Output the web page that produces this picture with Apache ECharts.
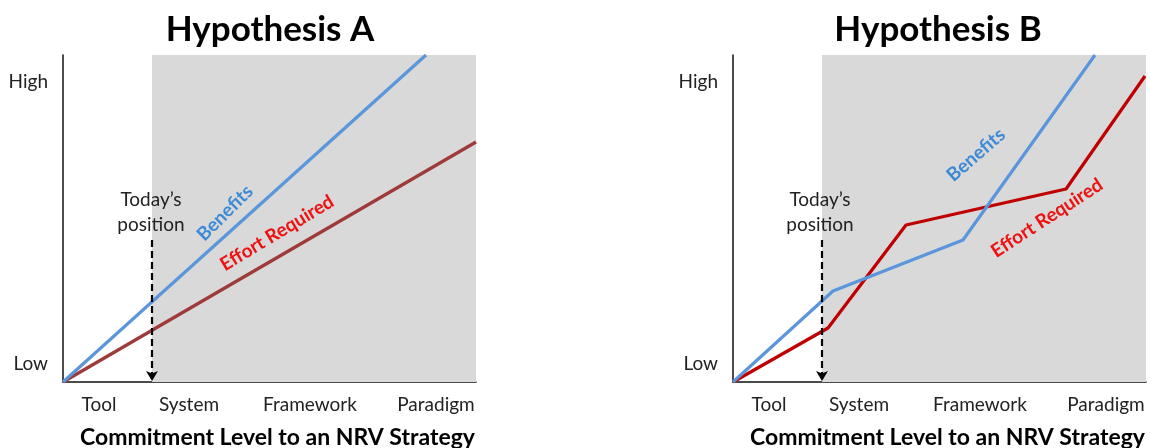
<!DOCTYPE html>
<html><head><meta charset="utf-8">
<script src="https://cdn.jsdelivr.net/npm/echarts@6/dist/echarts.min.js"></script>
<style>html,body{margin:0;padding:0;background:#fff}#c{width:1150px;height:448px}</style>
</head><body><div id="c"></div>
<script>
// ---- data ----
const titles = ['Hypothesis A', 'Hypothesis B'];
const xAxisTitle = 'Commitment Level to an NRV Strategy';
const categories = ['Tool', 'System', 'Framework', 'Paradigm'];
const categoryValues = [36, 126, 247, 373];       // where each level sits on the commitment scale
const levelNames = ['Low', 'High'];
const levelValues = [18, 300];
const xMax = 413, yMax = 327;
const todayValue = 89;                              // today's position on the commitment scale
const arrowTop = 142;
const shadeFrom = 89;

// Hypothesis A
const benefitsA = [[0, 0], [363, 327]];
const effortA = [[0, 0], [413, 240]];
// Hypothesis B
const benefitsB = [[0, 0], [100, 91], [230, 142], [362, 327]];
const effortB = [[0, 0], [95, 54], [173, 157], [333, 193], [412, 306]];

// label anchors (data coords) and rotation
const labelsA = {benefits: [162, 169, 45], effort: [214, 149, 31], today: [88, 170]};
const labelsB = {benefits: [243, 227, 41], effort: [314, 164, 33], today: [87, 170]};

// ---- chart ----
const FONT = 'Lato, "Open Sans", sans-serif';
const chart = echarts.init(document.getElementById('c'));
const grids = [
  {left: 63, width: 413, top: 55, height: 327, containLabel: false, outerBoundsMode: 'none'},
  {left: 733, width: 413, top: 55, height: 327, containLabel: false, outerBoundsMode: 'none'}
];
function xAx(i) {
  return {
    gridIndex: i, type: 'value', min: 0, max: xMax,
    name: xAxisTitle, nameLocation: 'middle', nameGap: 44,
    nameTextStyle: {fontFamily: FONT, fontWeight: 'bold', fontSize: 23, color: '#000',
      padding: [0, 0, 0, 16]},
    axisLine: {show: true, lineStyle: {color: '#111', width: 1.5}},
    axisTick: {show: false}, splitLine: {show: false},
    axisLabel: {
      customValues: categoryValues, margin: 13,
      fontFamily: FONT, fontSize: 19, color: '#222',
      formatter: v => categories[categoryValues.indexOf(v)] || ''
    }
  };
}
function yAx(i) {
  return {
    gridIndex: i, type: 'value', min: 0, max: yMax,
    axisLine: {show: true, lineStyle: {color: '#111', width: 1.5}},
    axisTick: {show: false}, splitLine: {show: false},
    axisLabel: {
      customValues: levelValues, margin: 15,
      fontFamily: FONT, fontSize: 19, color: '#222',
      formatter: v => levelNames[levelValues.indexOf(v)] || ''
    }
  };
}
function textPoint(p, text, color, bold, rot) {
  return {
    coord: [p[0], p[1]], symbolSize: 0,
    label: {show: true, position: 'inside', formatter: text, color: color,
      fontFamily: FONT, fontSize: 19, fontWeight: bold ? 'bold' : 'normal',
      rotate: rot || 0, lineHeight: 25}
  };
}
function panel(i, ben, eff, lab, benColor, effColor) {
  return [
    {
      type: 'line', xAxisIndex: i, yAxisIndex: i, data: [], silent: true,
      markArea: {silent: true, itemStyle: {color: '#d9d9d9'},
        data: [[{coord: [shadeFrom, 0]}, {coord: [xMax, yMax]}]]},
      markLine: {silent: true, symbol: ['none', 'arrow'], symbolSize: [9, 10],
        lineStyle: {color: '#000', type: [7, 4], width: 2.2}, label: {show: false},
        data: [[{coord: [todayValue, arrowTop]}, {coord: [todayValue, 1]}]]},
      markPoint: {silent: true, data: [textPoint(lab.today, "Today\u2019s\nposition", '#222', false)]},
      z: 1
    },
    {
      type: 'line', xAxisIndex: i, yAxisIndex: i, data: eff, showSymbol: false,
      lineStyle: {color: effColor, width: 3.2}, silent: true, z: 3,
      markPoint: {silent: true, data: [textPoint(lab.effort, 'Effort Required', '#ee1111', true, lab.effort[2])]}
    },
    {
      type: 'line', xAxisIndex: i, yAxisIndex: i, data: ben, showSymbol: false,
      lineStyle: {color: benColor, width: 3.2}, silent: true, z: 4,
      markPoint: {silent: true, data: [textPoint(lab.benefits, 'Benefits', '#3d8ad6', true, lab.benefits[2])]}
    }
  ];
}
chart.setOption({
  animation: false,
  title: [
    {text: titles[0], left: 265, top: 7, textAlign: 'center',
      textStyle: {fontFamily: FONT, fontWeight: 'bold', fontSize: 35, color: '#000'}},
    {text: titles[1], left: 933, top: 7, textAlign: 'center',
      textStyle: {fontFamily: FONT, fontWeight: 'bold', fontSize: 35, color: '#000'}}
  ],
  grid: grids,
  xAxis: [xAx(0), xAx(1)],
  yAxis: [yAx(0), yAx(1)],
  series: [].concat(
    panel(0, benefitsA, effortA, labelsA, '#5b96dc', '#9e3a3a'),
    panel(1, benefitsB, effortB, labelsB, '#5b96dc', '#c00000')
  )
});
</script></body></html>
